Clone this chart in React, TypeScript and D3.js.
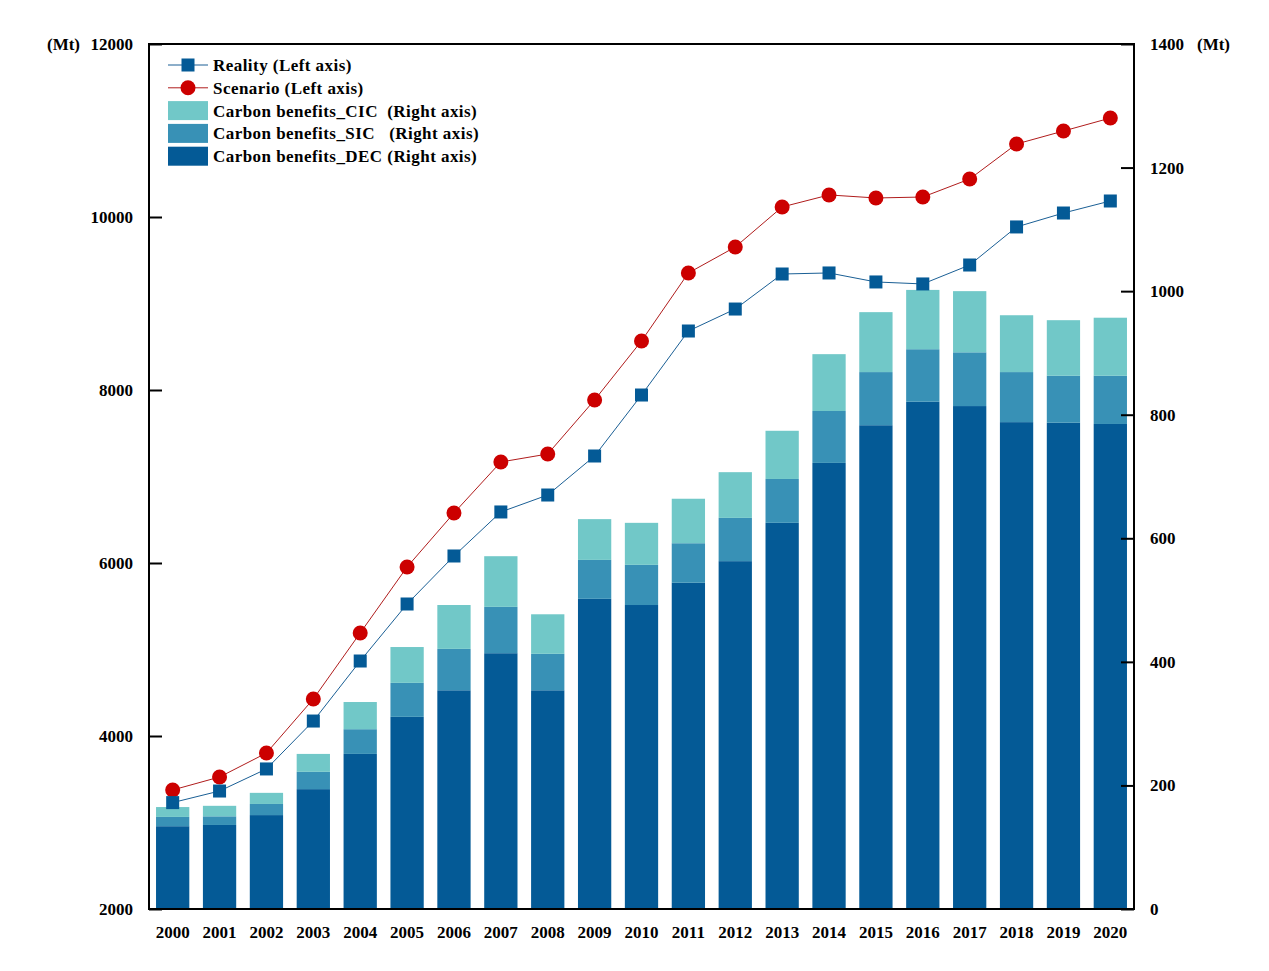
import * as d3 from 'd3';
import React, { useEffect, useRef } from 'react';

const years = [
  '2000', '2001', '2002', '2003', '2004', '2005', '2006', '2007', '2008', '2009', '2010',
  '2011', '2012', '2013', '2014', '2015', '2016', '2017', '2018', '2019', '2020',
];

// left axis (Mt)
const reality = [
  3230, 3364, 3619, 4173, 4867, 5526, 6081, 6590, 6786, 7237, 7942,
  8682, 8936, 9341, 9353, 9249, 9226, 9445, 9885, 10046, 10185,
];
const scenario = [
  3376, 3526, 3803, 4428, 5191, 5954, 6578, 7168, 7260, 7885, 8567,
  9353, 9653, 10116, 10255, 10220, 10231, 10439, 10844, 10994, 11144,
];

// right axis (Mt), stacked from the bottom: DEC, SIC, CIC
const benefitsDEC = [
  134, 136, 152, 194, 251, 311, 354, 414, 354, 502, 492,
  528, 563, 625, 722, 783, 821, 814, 788, 787, 785,
];
const benefitsSIC = [
  15, 14, 18, 28, 40, 55, 67, 75, 59, 63, 65,
  64, 70, 71, 84, 86, 85, 87, 81, 76, 78,
];
const benefitsCIC = [
  16, 17, 18, 29, 44, 58, 71, 82, 64, 66, 68,
  72, 74, 78, 92, 97, 96, 99, 92, 90, 94,
];

const leftTicks = [2000, 4000, 6000, 8000, 10000, 12000];
const rightTicks = [0, 200, 400, 600, 800, 1000, 1200, 1400];

const colors = {
  DEC: '#045a96',
  SIC: '#3891b6',
  CIC: '#71c8c8',
  reality: '#045a96',
  realityLine: '#1a5f95',
  scenario: '#cc0000',
  scenarioLine: '#b01c1c',
};

const W = 1269;
const H = 971;
const margin = { top: 44, right: 135, bottom: 62, left: 149 };
const font = '"Liberation Serif", "Times New Roman", serif';

export default function App() {
  const svgRef = useRef<SVGSVGElement | null>(null);

  useEffect(() => {
    if (!svgRef.current) return;
    const svg = d3.select(svgRef.current);
    svg.selectAll('*').remove();

    const innerW = W - margin.left - margin.right;
    const innerH = H - margin.top - margin.bottom;

    const x = d3.scaleBand().domain(years).range([0, innerW]).paddingInner(0.29).paddingOuter(0.15);
    const yL = d3.scaleLinear().domain([2000, 12000]).range([innerH, 0]);
    const yR = d3.scaleLinear().domain([0, 1400]).range([innerH, 0]);

    const g = svg.append('g').attr('transform', `translate(${margin.left},${margin.top})`);

    // stacked bars
    const rows = years.map((yr, i) => ({
      year: yr,
      DEC: benefitsDEC[i],
      SIC: benefitsSIC[i],
      CIC: benefitsCIC[i],
    }));
    const stack = d3.stack<any>().keys(['DEC', 'SIC', 'CIC'])(rows);

    g.selectAll('g.layer')
      .data(stack)
      .enter()
      .append('g')
      .attr('class', 'layer')
      .attr('fill', (d) => (colors as any)[d.key])
      .selectAll('rect')
      .data((d) => d)
      .enter()
      .append('rect')
      .attr('x', (d) => x(d.data.year)!)
      .attr('width', x.bandwidth())
      .attr('y', (d) => yR(d[1]))
      .attr('height', (d) => yR(d[0]) - yR(d[1]));

    const cx = (yr: string) => x(yr)! + x.bandwidth() / 2;

    // lines
    const line = d3
      .line<number>()
      .x((_, i) => cx(years[i]))
      .y((d) => yL(d));

    g.append('path')
      .datum(scenario)
      .attr('d', line)
      .attr('fill', 'none')
      .attr('stroke', colors.scenarioLine)
      .attr('stroke-width', 1);

    g.append('path')
      .datum(reality)
      .attr('d', line)
      .attr('fill', 'none')
      .attr('stroke', colors.realityLine)
      .attr('stroke-width', 1);

    g.selectAll('circle.scen')
      .data(scenario)
      .enter()
      .append('circle')
      .attr('class', 'scen')
      .attr('cx', (_, i) => cx(years[i]))
      .attr('cy', (d) => yL(d))
      .attr('r', 7.5)
      .attr('fill', colors.scenario);

    const sq = 13;
    g.selectAll('rect.real')
      .data(reality)
      .enter()
      .append('rect')
      .attr('class', 'real')
      .attr('x', (_, i) => cx(years[i]) - sq / 2)
      .attr('y', (d) => yL(d) - sq / 2)
      .attr('width', sq)
      .attr('height', sq)
      .attr('fill', colors.reality);

    // frame
    g.append('rect')
      .attr('width', innerW)
      .attr('height', innerH)
      .attr('fill', 'none')
      .attr('stroke', '#000')
      .attr('stroke-width', 2);

    const textStyle = (sel: any) =>
      sel.attr('font-family', font).attr('font-weight', 'bold').attr('font-size', 17).attr('fill', '#000');

    // left axis
    const left = g.append('g').call(
      d3.axisRight(yL).tickValues(leftTicks).tickSize(13).tickFormat(() => ''),
    );
    left.select('.domain').remove();
    left.selectAll('.tick line').attr('stroke', '#000').attr('stroke-width', 2);
    g.selectAll('text.ltick')
      .data(leftTicks)
      .enter()
      .append('text')
      .attr('class', 'ltick')
      .attr('x', -16)
      .attr('y', (d) => yL(d))
      .attr('dy', '0.35em')
      .attr('text-anchor', 'end')
      .text((d) => d)
      .call(textStyle);

    // right axis
    const right = g
      .append('g')
      .attr('transform', `translate(${innerW},0)`)
      .call(d3.axisLeft(yR).tickValues(rightTicks).tickSize(13).tickFormat(() => ''));
    right.select('.domain').remove();
    right.selectAll('.tick line').attr('stroke', '#000').attr('stroke-width', 2);
    g.selectAll('text.rtick')
      .data(rightTicks)
      .enter()
      .append('text')
      .attr('class', 'rtick')
      .attr('x', innerW + 16)
      .attr('y', (d) => yR(d))
      .attr('dy', '0.35em')
      .attr('text-anchor', 'start')
      .text((d) => d)
      .call(textStyle);

    // unit labels
    g.append('text')
      .attr('x', -102)
      .attr('y', 0)
      .attr('dy', '0.35em')
      .attr('text-anchor', 'start')
      .text('(Mt)')
      .call(textStyle);
    g.append('text')
      .attr('x', innerW + 63)
      .attr('y', 0)
      .attr('dy', '0.35em')
      .attr('text-anchor', 'start')
      .text('(Mt)')
      .call(textStyle);

    // x labels
    g.selectAll('text.xtick')
      .data(years)
      .enter()
      .append('text')
      .attr('class', 'xtick')
      .attr('x', (d) => cx(d))
      .attr('y', innerH + 23)
      .attr('dy', '0.35em')
      .attr('text-anchor', 'middle')
      .text((d) => d)
      .call(textStyle);

    // legend
    const legend = g.append('g').attr('transform', 'translate(19,21)');
    const items = [
      { label: 'Reality (Left axis)', kind: 'square' },
      { label: 'Scenario (Left axis)', kind: 'circle' },
      { label: 'Carbon benefits_CIC  (Right axis)', kind: 'CIC' },
      { label: 'Carbon benefits_SIC   (Right axis)', kind: 'SIC' },
      { label: 'Carbon benefits_DEC (Right axis)', kind: 'DEC' },
    ];
    items.forEach((it, i) => {
      const row = legend.append('g').attr('transform', `translate(0,${i * 22.8})`);
      if (it.kind === 'square') {
        row.append('line').attr('x1', 0).attr('x2', 40).attr('stroke', colors.realityLine);
        row.append('rect').attr('x', 13.5).attr('y', -6.5).attr('width', 13).attr('height', 13).attr('fill', colors.reality);
      } else if (it.kind === 'circle') {
        row.append('line').attr('x1', 0).attr('x2', 40).attr('stroke', colors.scenarioLine);
        row.append('circle').attr('cx', 20).attr('r', 7.5).attr('fill', colors.scenario);
      } else {
        row.append('rect').attr('x', 0).attr('y', -9.5).attr('width', 40).attr('height', 19).attr('fill', (colors as any)[it.kind]);
      }
      row
        .append('text')
        .attr('x', 45)
        .attr('dy', '0.35em')
        .attr('letter-spacing', 0.45)
        .style('white-space', 'pre')
        .text(it.label)
        .call(textStyle);
    });
  }, []);

  return (
    <svg
      ref={svgRef}
      width={W}
      height={H}
      style={{ position: 'absolute', left: 0, top: 0, background: '#fff' }}
    ></svg>
  );
}
